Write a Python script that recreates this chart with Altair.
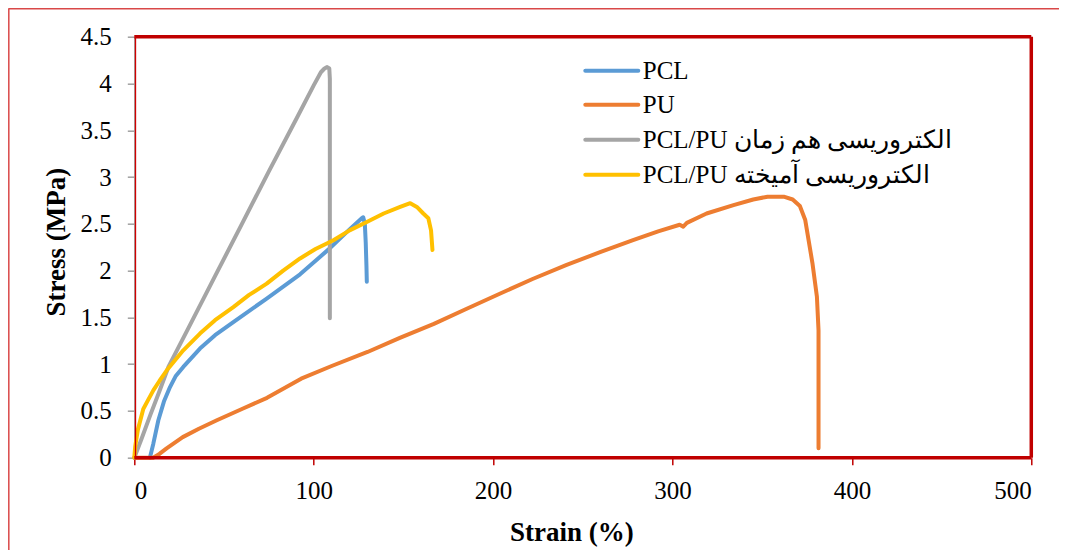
import altair as alt
import pandas as pd

series_names = ["PCL", "PU", "PCL/PU الکتروریسی هم زمان", "PCL/PU الکتروریسی آمیخته"]
colors = ["#5B9BD5", "#ED7D31", "#A5A5A5", "#FFC000"]

pcl_strain = [8.7, 10.6, 13.4, 16.5, 19.9, 23, 27.3, 36.6, 45, 55.2, 73.8, 92.4, 109.1, 120, 126.8, 127.6, 128.5, 129, 129.4, 129.6]
pcl_stress = [0, 0.15, 0.40, 0.60, 0.755, 0.87, 0.97, 1.166, 1.31, 1.45, 1.70, 1.96, 2.24, 2.44, 2.56, 2.57, 2.50, 2.30, 2.05, 1.88]

pu_strain = [0, 10.5, 14, 18, 27, 36, 46, 60, 74, 93, 110, 130, 148, 167, 185, 204, 222, 241, 260, 278, 292, 304, 306, 308, 319, 334, 345, 353, 362, 367, 371, 374, 378, 380.5, 381.4, 381.4, 381.4]
pu_stress = [0, 0, 0.04, 0.10, 0.22, 0.31, 0.40, 0.52, 0.64, 0.845, 0.98, 1.13, 1.28, 1.43, 1.59, 1.755, 1.91, 2.06, 2.20, 2.325, 2.42, 2.49, 2.47, 2.51, 2.61, 2.70, 2.76, 2.79, 2.79, 2.76, 2.69, 2.54, 2.08, 1.72, 1.36, 0.60, 0.10]

sim_strain = [0, 4, 9, 14, 19, 30, 45, 60, 75, 90, 100, 104, 106, 107.5, 108.7, 109, 109, 109, 109]
sim_stress = [0, 0.20, 0.46, 0.71, 0.97, 1.38, 1.94, 2.50, 3.06, 3.61, 3.98, 4.12, 4.16, 4.175, 4.16, 4.05, 3.00, 2.00, 1.49]

mix_strain = [0, 0.5, 2, 5, 7.5, 10.6, 14, 18.1, 27.3, 36.6, 45, 55.2, 64, 73.8, 83, 92.4, 101, 111, 120, 129.6, 139, 148.2, 153.8, 157.5, 161.1, 163.9, 165.4, 166.2]
mix_stress = [0, 0.12, 0.30, 0.52, 0.61, 0.72, 0.82, 0.934, 1.148, 1.327, 1.47, 1.61, 1.74, 1.86, 2.00, 2.13, 2.23, 2.325, 2.43, 2.52, 2.61, 2.68, 2.72, 2.68, 2.61, 2.56, 2.43, 2.22]

x_ticks = [0, 100, 200, 300, 400, 500]
y_ticks = [0, 0.5, 1, 1.5, 2, 2.5, 3, 3.5, 4, 4.5]

W, H = 897, 421
FONT = "Liberation Serif"

rows = []
for name, xs, ys in zip(series_names,
                        [pcl_strain, pu_strain, sim_strain, mix_strain],
                        [pcl_stress, pu_stress, sim_stress, mix_stress]):
    for i, (x, y) in enumerate(zip(xs, ys)):
        rows.append({"series": name, "strain": x, "stress": y, "i": i})
df = pd.DataFrame(rows)

x_scale = alt.Scale(domain=[0, 500], nice=False)
y_scale = alt.Scale(domain=[0, 4.5], nice=False)
color_scale = alt.Scale(domain=series_names, range=colors)

x_axis = alt.Axis(values=x_ticks, title="Strain (%)", grid=False, domain=False,
                  tickColor="#C00000", tickSize=7, tickWidth=1.5,
                  labelFont=FONT, labelFontSize=25, labelColor="black",
                  labelBaseline="alphabetic", labelPadding=34,
                  titleFont=FONT, titleFontSize=27, titleFontWeight="bold", titleColor="black",
                  titleX=437, titleY=83, titleBaseline="alphabetic", titleAlign="center")
y_axis = alt.Axis(values=y_ticks, format="~g", title="Stress (MPa)", grid=False,
                  domainColor="#A0A0A0", domainWidth=1.5,
                  tickColor="#A0A0A0", tickSize=7, tickWidth=1.5,
                  labelFont=FONT, labelFontSize=25, labelColor="black", labelPadding=16,
                  titleFont=FONT, titleFontSize=27, titleFontWeight="bold", titleColor="black",
                  titleAngle=-90, titleX=-78, titleY=205, titleBaseline="middle", titleAlign="center")

layers = []
for k, name in enumerate(series_names):
    enc = dict(
        x=alt.X("strain:Q", scale=x_scale, axis=x_axis),
        y=alt.Y("stress:Q", scale=y_scale, axis=y_axis),
        color=alt.Color("series:N", scale=color_scale, legend=None),
        order=alt.Order("i:Q"),
    )
    layers.append(
        alt.Chart(df).transform_filter(alt.datum.series == name)
        .mark_line(strokeWidth=4, strokeCap="round", strokeJoin="round")
        .encode(**enc)
    )

# legend (drawn inside the plot)
leg_rows_px = [34, 68, 103, 138]
leg = pd.DataFrame({
    "series": series_names,
    "ly": [4.5 * (1 - p / H) for p in leg_rows_px],
    "ty": [4.5 * (1 - (p + 8.5) / H) for p in leg_rows_px],
})
leg_lines = alt.Chart(leg).mark_rule(strokeWidth=4, strokeCap="round").encode(
    x=alt.value(451), x2=alt.value(504),
    y=alt.Y("ly:Q", scale=y_scale, axis=y_axis),
    color=alt.Color("series:N", scale=color_scale, legend=None),
)
leg_text = alt.Chart(leg).mark_text(font=FONT, fontSize=25, align="left",
                                    baseline="alphabetic", color="black").encode(
    x=alt.value(508.5), y=alt.Y("ty:Q", scale=y_scale, axis=y_axis), text="series:N")

one = alt.Data(values=[{"a": 1}])
dark = "#C00000"
frame = [
    alt.Chart(one).mark_rule(color=dark, strokeWidth=3.5).encode(x=alt.value(0), x2=alt.value(W), y=alt.value(0)),
    alt.Chart(one).mark_rule(color=dark, strokeWidth=3.5).encode(x=alt.value(W), y=alt.value(0), y2=alt.value(H)),
    alt.Chart(one).mark_rule(color=dark, strokeWidth=3.5).encode(x=alt.value(0), x2=alt.value(W), y=alt.value(H)),
    alt.Chart(one).mark_rule(color="#D00000", strokeWidth=1.3).encode(x=alt.value(1.2), y=alt.value(0), y2=alt.value(H)),
    alt.Chart(one).mark_rule(color="#D94848", strokeWidth=1.5).encode(x=alt.value(-125.5), y=alt.value(-28), y2=alt.value(520)),
    alt.Chart(one).mark_rule(color="#D94848", strokeWidth=1.5).encode(x=alt.value(-126), x2=alt.value(935), y=alt.value(-28)),
]

chart = alt.layer(*layers, leg_lines, leg_text, *frame).properties(
    width=W, height=H,
    autosize=alt.AutoSizeParams(type="none"),
    padding={"left": 126.3, "top": 28.7, "right": 28, "bottom": 92},
    background="white",
).configure_view(stroke=None)

chart.save("out.html", embed_options={"renderer": "svg", "actions": False})
